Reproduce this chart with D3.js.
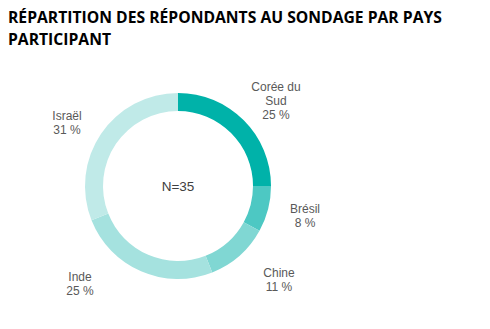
<!DOCTYPE html>
<html><head><meta charset="utf-8">
<script src="https://cdn.jsdelivr.net/npm/d3@7"></script>
<style>body{margin:0;background:#fff;}svg{display:block;}</style>
</head><body>
<script>
const categories = ["Corée du Sud", "Brésil", "Chine", "Inde", "Israël"];
const values = [25, 8, 11, 25, 31];
const labelLines = [["Corée du", "Sud"], ["Brésil"], ["Chine"], ["Inde"], ["Israël"]];
const colors = ["#00b2a9", "#4dc8c3", "#80d7d3", "#a5e2df", "#c0eae8"];
const titleLines = ["RÉPARTITION DES RÉPONDANTS AU SONDAGE PAR PAYS", "PARTICIPANT"];
const centerText = "N=35";
// label anchor positions (x,y of first line) in pixels
const labelPos = [[276, 91], [305, 213], [279, 277], [80, 281], [67, 120]];

const W = 490, H = 329;
const svg = d3.select("body").append("svg").attr("width", W).attr("height", H);

svg.append("g").selectAll("text").data(titleLines).join("text")
  .attr("x", 8).attr("y", (d, i) => 23 + i * 22)
  .attr("font-family", "'Open Sans', 'DejaVu Sans', sans-serif")
  .attr("font-weight", "bold").attr("font-size", 15.7).attr("fill", "#000")
  .text(d => d);

const cx = 178, cy = 186, rOuter = 93, rInner = 75;
const pie = d3.pie().sort(null).value(d => d)(values);
const arc = d3.arc().innerRadius(rInner).outerRadius(rOuter);
const g = svg.append("g").attr("transform", `translate(${cx},${cy})`);
g.selectAll("path").data(pie).join("path")
  .attr("d", arc).attr("fill", (d, i) => colors[i]);

g.append("text").attr("text-anchor", "middle").attr("dy", "0.35em")
  .attr("font-family", "'Liberation Sans', Arial, sans-serif").attr("font-size", 13.5)
  .attr("fill", "#404040").text(centerText);

const lg = svg.append("g").attr("font-family", "'Liberation Sans', Arial, sans-serif")
  .attr("font-size", 12).attr("fill", "#595959").attr("text-anchor", "middle");
categories.forEach((c, i) => {
  const lines = labelLines[i].concat([values[i] + " %"]);
  const t = lg.append("text").attr("x", labelPos[i][0]).attr("y", labelPos[i][1]);
  lines.forEach((l, j) => t.append("tspan").attr("x", labelPos[i][0]).attr("dy", j === 0 ? 0 : 14).text(l));
});
</script>
</body></html>
